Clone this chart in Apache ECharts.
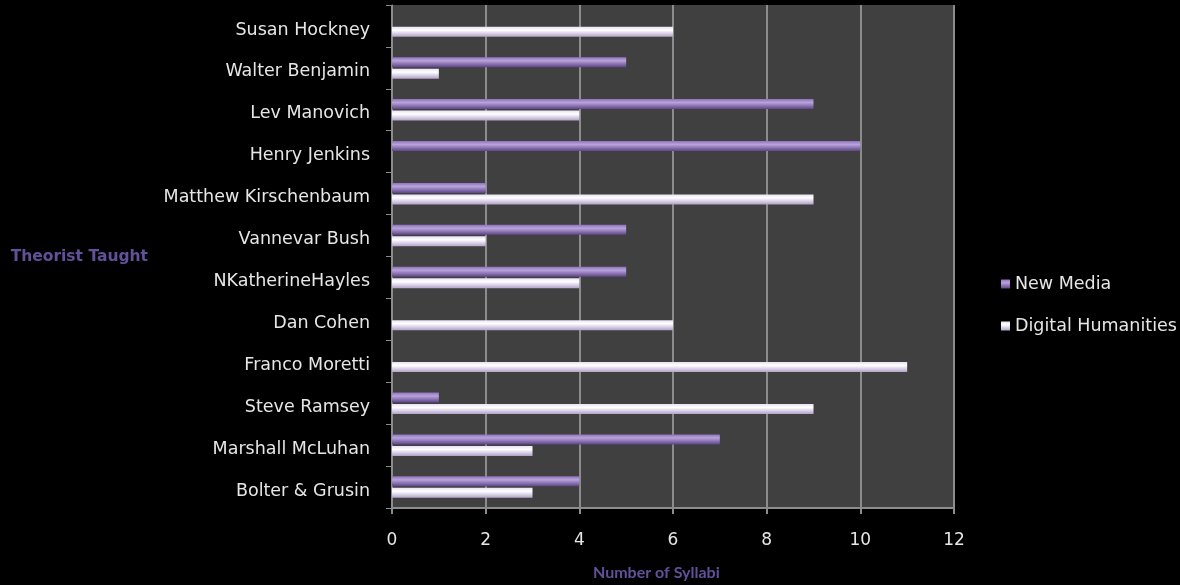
<!DOCTYPE html>
<html>
<head>
<meta charset="utf-8">
<script src="https://cdn.jsdelivr.net/npm/echarts@6/dist/echarts.min.js"></script>
<style>
  html, body { margin: 0; padding: 0; background: #000; }
  #chart { width: 1180px; height: 585px; }
</style>
</head>
<body>
<div id="chart"></div>
<script>
// Theorists, listed bottom to top as the category axis draws them
const theorists = [
  'Bolter & Grusin', 'Marshall McLuhan', 'Steve Ramsey', 'Franco Moretti',
  'Dan Cohen', 'NKatherineHayles', 'Vannevar Bush', 'Matthew Kirschenbaum',
  'Henry Jenkins', 'Lev Manovich', 'Walter Benjamin', 'Susan Hockney'
];
// Number of syllabi per theorist
const newMedia = [4, 7, 1, 0, 0, 5, 5, 2, 10, 9, 5, 0];
const digitalHumanities = [3, 3, 9, 11, 6, 4, 2, 9, 0, 4, 1, 6];
const xTicks = [0, 2, 4, 6, 8, 10, 12];

const chart = echarts.init(document.getElementById('chart'));
const font = '"DejaVu Sans", sans-serif';

function tube(dark, light, mid) {
  return new echarts.graphic.LinearGradient(0, 0, 0, 1, [
    { offset: 0, color: mid },
    { offset: 0.35, color: light },
    { offset: 1, color: dark }
  ]);
}

chart.setOption({
  backgroundColor: '#000000',
  animation: false,
  textStyle: { fontFamily: font },
  grid: {
    left: 392, right: 226, top: 5, bottom: 77,
    show: true, backgroundColor: '#404040', borderWidth: 0
  },
  legend: {
    orient: 'vertical',
    left: 996, top: 270,
    itemWidth: 9, itemHeight: 9, itemGap: 24,
    icon: 'rect',
    data: ['New Media', 'Digital Humanities'],
    textStyle: { color: '#e6e6e6', fontSize: 17.5, fontFamily: font }
  },
  xAxis: {
    type: 'value',
    min: xTicks[0], max: xTicks[xTicks.length - 1], interval: 2,
    axisLine: { show: true, lineStyle: { color: '#8c8c8c', width: 2 } },
    axisTick: { show: true, length: 6, lineStyle: { color: '#8c8c8c', width: 2 } },
    splitLine: { show: true, lineStyle: { color: '#8c8c8c', width: 2 } },
    axisLabel: { color: '#e6e6e6', fontSize: 17, margin: 24 }
  },
  yAxis: {
    type: 'category',
    data: theorists,
    name: 'Theorist Taught',
    nameLocation: 'middle',
    nameRotate: 0,
    nameGap: 244,
    nameTextStyle: { color: '#62509a', fontSize: 15.5, fontWeight: 'bold', align: 'right' },
    axisLine: { show: true, lineStyle: { color: '#8c8c8c', width: 1 } },
    axisTick: { show: true, length: 6, lineStyle: { color: '#8c8c8c' } },
    axisLabel: {
      color: '#e6e6e6', fontSize: 17.5, margin: 22,
      verticalAlign: 'top', lineHeight: 8
    }
  },
  series: [
    {
      name: 'New Media',
      type: 'bar',
      data: newMedia,
      barWidth: 10,
      barGap: '15%',
      itemStyle: { color: tube('#5e4688', '#b9a3dc', '#8d72bb') }
    },
    {
      name: 'Digital Humanities',
      type: 'bar',
      data: digitalHumanities,
      barWidth: 10,
      barGap: '15%',
      itemStyle: { color: tube('#b3a2cb', '#ffffff', '#e9e0f4') }
    }
  ],
  graphic: [{
    type: 'text',
    left: 593, top: 565,
    style: { text: 'Number of Syllabi', fill: '#62509a', font: 'bold 16px Lato, sans-serif' }
  }]
});
</script>
</body>
</html>
